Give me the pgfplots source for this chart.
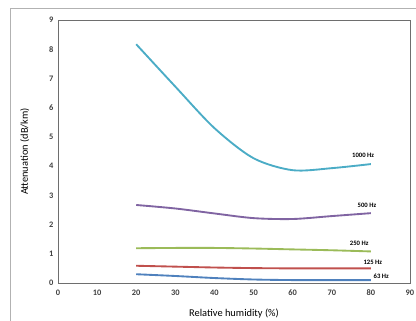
\documentclass[border=0pt]{standalone}
\usepackage{fontspec}
\setmainfont{Carlito}
\usepackage{pgfplots}
\pgfplotsset{compat=1.18}
\definecolor{c1000}{RGB}{75,172,198}
\definecolor{c500}{RGB}{128,100,162}
\definecolor{c250}{RGB}{155,187,89}
\definecolor{c125}{RGB}{192,80,77}
\definecolor{c63}{RGB}{79,129,189}
\definecolor{axgray}{RGB}{110,110,110}
\begin{document}
\begin{tikzpicture}
\clip (-43.5pt,-27.75pt) rectangle (268.5pt,212.25pt);
\draw[gray!60, line width=0.6pt] (-36pt,-40pt) rectangle (290pt,206.25pt);
\begin{axis}[
  at={(0pt,0pt)}, anchor=south west,
  scale only axis, width=264pt, height=197.25pt,
  xmin=0, xmax=90, ymin=0, ymax=9,
  xtick={0,10,...,90}, ytick={0,1,...,9},
  major tick length=0pt,
  axis line style={axgray, line width=0.6pt},
  tick label style={font=\fontsize{6.3}{7}\selectfont\bfseries, text=black!75},
  xticklabel style={yshift=-1.5pt},
  /pgf/number format/assume math mode=true,
  xlabel={Relative humidity (\%)},
  ylabel={Attenuation (dB/km)},
  label style={font=\fontsize{7.8}{9}\selectfont},
  xlabel style={yshift=-3pt},
  ylabel style={yshift=8pt},
  every axis plot/.append style={line width=1.4pt, smooth, no markers},
  clip=false,
]
\addplot[c1000] coordinates {(20,8.17) (30,6.72) (40,5.3) (50,4.27) (60,3.86) (70,3.93) (80,4.07)};
\addplot[c500] coordinates {(20,2.67) (30,2.55) (40,2.38) (50,2.22) (60,2.19) (70,2.29) (80,2.39)};
\addplot[c250] coordinates {(20,1.19) (30,1.2) (40,1.2) (50,1.18) (60,1.15) (70,1.12) (80,1.08)};
\addplot[c125] coordinates {(20,0.59) (30,0.56) (40,0.53) (50,0.51) (60,0.5) (70,0.5) (80,0.5)};
\addplot[c63] coordinates {(20,0.3) (30,0.24) (40,0.17) (50,0.12) (60,0.1) (70,0.1) (80,0.1)};
\begin{scope}[font=\fontsize{5}{5.5}\selectfont\bfseries]
\node[anchor=south] at (axis cs:78,4.12) {1000 Hz};
\node[anchor=south] at (axis cs:79,2.42) {500 Hz};
\node[anchor=south] at (axis cs:77,1.13) {250 Hz};
\node[anchor=south] at (axis cs:80.5,0.48) {125 Hz};
\node[anchor=south west] at (axis cs:79.5,0.0) {63 Hz};
\end{scope}
\end{axis}
\end{tikzpicture}
\end{document}
